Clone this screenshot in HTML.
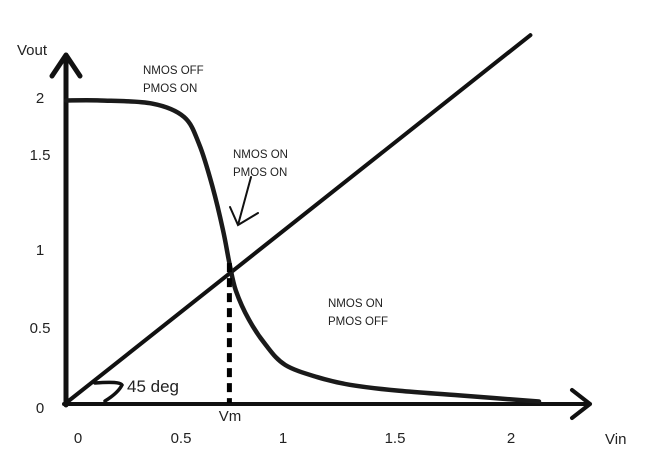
<!DOCTYPE html>
<html><head><meta charset="utf-8"><style>
html,body{margin:0;padding:0;background:#fff;}
svg{display:block;font-family:"Liberation Sans",sans-serif;}
</style></head><body>
<svg id="chart" width="667" height="462" viewBox="0 0 667 462"></svg>
<script>
const curveX = [0,0.16,0.40,0.55,0.62,0.68,0.73,0.76,0.79,0.85,0.93,1.02,1.17,1.32,1.55,1.83,2.20];
const curveY = [1.99,1.99,1.97,1.88,1.70,1.43,1.14,0.92,0.74,0.55,0.38,0.25,0.17,0.12,0.08,0.05,0.01];
const diagEnd = [2.16, 2.42];
const vm = [0.76, 0.92];
const xTicks = ["0","0.5","1","1.5","2"];
const xTickPx = [78,181,283,395,511];
const yTicks = ["2","1.5","1","0.5","0"];
const yTickPx = [98,155,250,328,408];
const NS="http://www.w3.org/2000/svg";
const svg=document.getElementById('chart');
function X(v){return 66+v*215;}
function Y(v){return 403-v*152;}
function mk(tag,attrs,parent){const e=document.createElementNS(NS,tag);for(const k in attrs)e.setAttribute(k,attrs[k]);(parent||svg).appendChild(e);return e;}
let a=mk('path',{d:'M66,405 L66,55 M52,76 L66,55 L80,76',fill:'none',stroke:'#111','stroke-width':5,'stroke-linejoin':'round','stroke-linecap':'round'});


a=mk('path',{d:'M64,404 L590,404 M572,390 L590,404 L572,418',fill:'none',stroke:'#111','stroke-width':4,'stroke-linejoin':'round','stroke-linecap':'round'});


a=mk('line',{x1:X(0),y1:Y(0),x2:X(diagEnd[0]),y2:Y(diagEnd[1]),stroke:'#111','stroke-width':4,'stroke-linecap':'round'});


// smooth curve (Catmull-Rom to Bezier)
const P=curveX.map((v,i)=>[X(v),Y(curveY[i])]);
let d='M'+P[0][0].toFixed(1)+','+P[0][1].toFixed(1);
for(let i=0;i<P.length-1;i++){
  const p0=P[Math.max(0,i-1)],p1=P[i],p2=P[i+1],p3=P[Math.min(P.length-1,i+2)];
  const c1=[p1[0]+(p2[0]-p0[0])/6,p1[1]+(p2[1]-p0[1])/6];
  const c2=[p2[0]-(p3[0]-p1[0])/6,p2[1]-(p3[1]-p1[1])/6];
  d+=' C'+c1[0].toFixed(1)+','+c1[1].toFixed(1)+' '+c2[0].toFixed(1)+','+c2[1].toFixed(1)+' '+p2[0].toFixed(1)+','+p2[1].toFixed(1);
}
a=mk('path',{d:d,fill:'none',stroke:'#1a1a1a','stroke-width':4.5,'stroke-linejoin':'round','stroke-linecap':'round'});


a=mk('line',{x1:X(vm[0]),y1:Y(vm[1]),x2:X(vm[0]),y2:403,stroke:'#000','stroke-width':5,'stroke-dasharray':'9,6'});


a=mk('path',{d:'M251,177 L238,225 M230,207 L238,225 L258,213',fill:'none',stroke:'#111','stroke-width':2,'stroke-linecap':'round'});


a=mk('path',{d:'M95,383 Q120,381 122,385 Q118,393 105,401',fill:'none',stroke:'#111','stroke-width':3.5,'stroke-linecap':'round'});


function txt(s,x,y,size,name,anchor){const t=mk('text',{x:x,y:y,'font-size':size,fill:'#222','text-anchor':anchor||'start'});t.textContent=s;return t;}
for(let i=0;i<xTicks.length;i++)txt(xTicks[i],xTickPx[i],443,15,'x-tick-label','middle');
for(let i=0;i<yTicks.length;i++)txt(yTicks[i],40,yTickPx[i]+5,15,'y-tick-label','middle');
txt('Vout',17,55,15,'y-axis-title');
txt('Vin',605,444,15,'x-axis-title');
txt('Vm',230,421,15,'vm-label','middle');
txt('45 deg',127,392,17,'angle-label');
txt('NMOS OFF',143,74,11.5,'region-label');
txt('PMOS ON',143,92,11.5,'region-label');
txt('NMOS ON',233,158,11.5,'region-label');
txt('PMOS ON',233,176,11.5,'region-label');
txt('NMOS ON',328,307,11.5,'region-label');
txt('PMOS OFF',328,325,11.5,'region-label');
</script>
</body></html>
